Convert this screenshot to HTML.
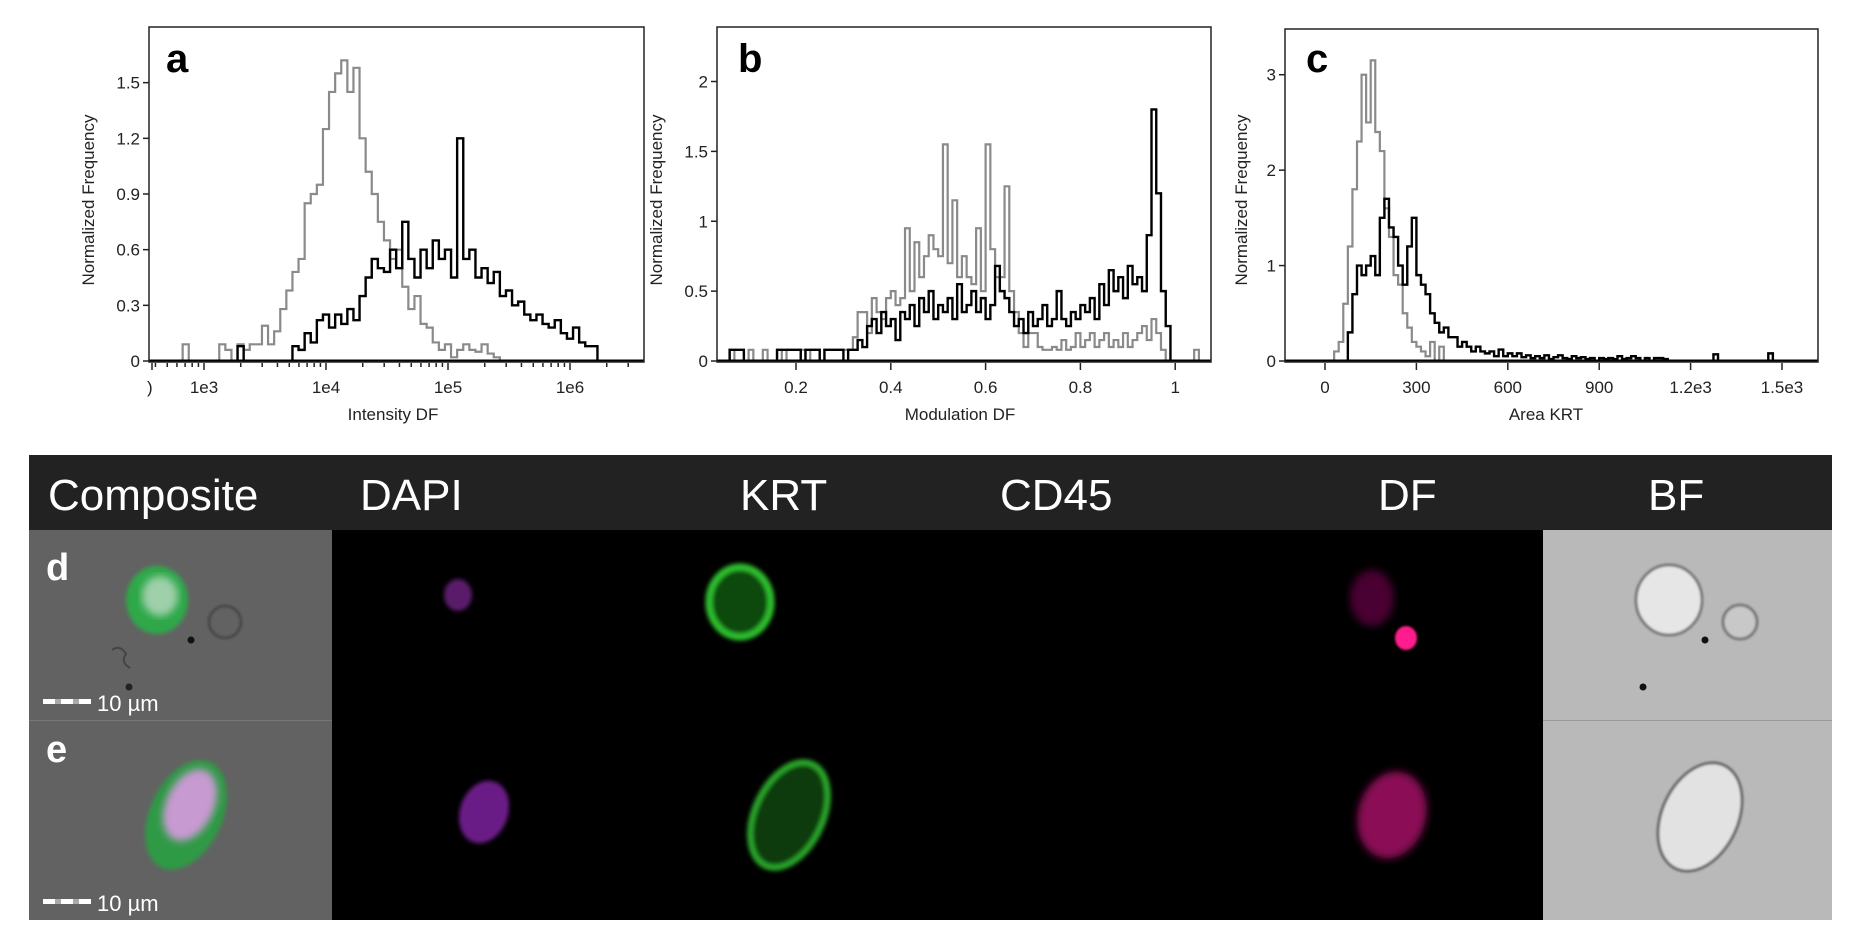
<!DOCTYPE html>
<html><head><meta charset="utf-8"><style>
html,body{margin:0;padding:0;background:#fff;}
svg{display:block;font-family:"Liberation Sans",Arial,sans-serif;}
</style></head><body>
<svg id="fig" width="1852" height="945" viewBox="0 0 1852 945" xmlns="http://www.w3.org/2000/svg">
<defs>
<filter id="blur2"><feGaussianBlur stdDeviation="2"/></filter>
<filter id="blur4"><feGaussianBlur stdDeviation="4"/></filter>
<filter id="blur1"><feGaussianBlur stdDeviation="1"/></filter>
<clipPath id="clipA"><rect x="149" y="27" width="495" height="336"/></clipPath>
<clipPath id="clipB"><rect x="717" y="27" width="494" height="336"/></clipPath>
<clipPath id="clipC"><rect x="1285" y="29" width="533" height="334"/></clipPath>
</defs>
<g id="charts"></g>

<g>
  <rect x="29" y="455" width="1803" height="75" fill="#222"/>
  <g fill="#fff" font-size="44">
    <text x="48" y="510">Composite</text>
    <text x="360" y="510">DAPI</text>
    <text x="740" y="510">KRT</text>
    <text x="1000" y="510">CD45</text>
    <text x="1378" y="510">DF</text>
    <text x="1648" y="510">BF</text>
  </g>
  <rect x="29" y="530" width="303" height="190" fill="#626262"/>
  <rect x="29" y="721" width="303" height="199" fill="#626262"/>
  <rect x="332" y="530" width="1211" height="390" fill="#000"/>
  <rect x="1543" y="530" width="289" height="190" fill="#b9b9b9"/>
  <rect x="1543" y="721" width="289" height="199" fill="#b9b9b9"/>
  <line x1="1543" y1="720.5" x2="1832" y2="720.5" stroke="#999" stroke-width="1"/>
  <line x1="29" y1="720.5" x2="332" y2="720.5" stroke="#777" stroke-width="1"/>

  <!-- composite d -->
  <g>
    <ellipse cx="157" cy="600" rx="31" ry="34" fill="#2fa84a" filter="url(#blur2)"/>
    <ellipse cx="160" cy="596" rx="18" ry="20" fill="#9fd0aa" filter="url(#blur4)"/>
    <circle cx="225" cy="622" r="16" fill="none" stroke="#4a4a4a" stroke-width="3" filter="url(#blur1)"/>
    <circle cx="191" cy="640" r="3.5" fill="#111"/>
    <circle cx="129" cy="687" r="3.5" fill="#222"/>
    <path d="M112 650 q8 -6 14 4 q-6 8 4 14" fill="none" stroke="#444" stroke-width="2"/>
  </g>
  <text x="46" y="580" fill="#fff" font-size="38" font-weight="bold">d</text>
  <g>
    <rect x="43" y="699" width="12" height="5" fill="#fff"/><rect x="55" y="699" width="6" height="5" fill="#aaa"/><rect x="61" y="699" width="12" height="5" fill="#fff"/><rect x="73" y="699" width="6" height="5" fill="#aaa"/><rect x="79" y="699" width="12" height="5" fill="#fff"/>
    <text x="97" y="711" fill="#fff" font-size="22">10 µm</text>
  </g>
  <!-- composite e -->
  <g>
    <ellipse cx="186" cy="815" rx="36" ry="58" transform="rotate(25 186 815)" fill="#2e9a44" filter="url(#blur2)"/>
    <ellipse cx="190" cy="805" rx="24" ry="38" transform="rotate(25 190 805)" fill="#c89ad2" filter="url(#blur4)"/>
  </g>
  <text x="46" y="762" fill="#fff" font-size="38" font-weight="bold">e</text>
  <g>
    <rect x="43" y="899" width="12" height="5" fill="#fff"/><rect x="55" y="899" width="6" height="5" fill="#aaa"/><rect x="61" y="899" width="12" height="5" fill="#fff"/><rect x="73" y="899" width="6" height="5" fill="#aaa"/><rect x="79" y="899" width="12" height="5" fill="#fff"/>
    <text x="97" y="911" fill="#fff" font-size="22">10 µm</text>
  </g>
  <!-- DAPI -->
  <ellipse cx="458" cy="595" rx="14" ry="16" fill="#5a1a6a" filter="url(#blur2)"/>
  <ellipse cx="484" cy="812" rx="24" ry="32" transform="rotate(20 484 812)" fill="#6a1f86" filter="url(#blur2)"/>
  <!-- KRT -->
  <ellipse cx="740" cy="602" rx="31" ry="35" fill="#0d4a10" stroke="#2fc02f" stroke-width="7" filter="url(#blur2)"/>
  <ellipse cx="789" cy="815" rx="34" ry="56" transform="rotate(25 789 815)" fill="#0a3a0c" stroke="#29a82a" stroke-width="6" filter="url(#blur2)"/>
  <!-- DF -->
  <ellipse cx="1372" cy="598" rx="22" ry="28" fill="#4a0530" filter="url(#blur4)"/>
  <ellipse cx="1406" cy="638" rx="11" ry="12" fill="#ff1a8c" filter="url(#blur1)"/>
  <ellipse cx="1392" cy="815" rx="34" ry="44" transform="rotate(15 1392 815)" fill="#8a0a55" filter="url(#blur4)"/>
  <!-- BF -->
  <g>
    <ellipse cx="1669" cy="600" rx="33" ry="35" fill="#e6e6e6" stroke="#777" stroke-width="3" filter="url(#blur1)"/>
    <circle cx="1740" cy="622" r="17" fill="#c8c8c8" stroke="#777" stroke-width="3" filter="url(#blur1)"/>
    <circle cx="1705" cy="640" r="3.5" fill="#111"/>
    <circle cx="1643" cy="687" r="3.5" fill="#111"/>
  </g>
  <ellipse cx="1700" cy="817" rx="38" ry="57" transform="rotate(25 1700 817)" fill="#e2e2e2" stroke="#666" stroke-width="3" filter="url(#blur1)"/>
</g>
</svg>
<script>
// ---- Panel a data (log10 bins, start 2.5, step 0.05) ----
const aStartLog = 2.5;
const aStepLog = 0.05;
const aGray = [0,0,0,0,0,0,0,0.09,0,0,0,0,0,
 0.09,0.06,0,0.09,0.06,0.09,0.09,0.19,0.09,0.16,0.28,0.38,0.48,0.55,0.85,0.9,0.95,1.25,1.45,1.55,1.62,1.45,1.58,1.2,1.02,0.9,0.75,0.65,0.55,0.6,0.4,0.28,0.35,0.2,0.18,0.1,0.06,0.09,0.02,0.06,0.09,0.06,0.05,0.09,0.04,0.02,0,
 0,0,0,0,0,0,0,0,0,0,0,0,0,0,0,0,0,0,0,0];
const aBlack = [0,0,0,0,0,0,0,0,0,0,0,0,0,0,0,0,0.08,0,0,0,0,0,0,0,0,
 0.08,0.06,0.15,0.1,0.22,0.25,0.18,0.25,0.2,0.28,0.22,0.35,0.45,0.55,0.5,0.48,0.6,0.5,0.75,0.55,0.45,0.6,0.5,0.65,0.55,0.6,0.45,1.2,0.55,0.6,0.45,0.5,0.42,0.48,0.35,0.38,0.3,0.32,0.25,0.22,0.25,0.2,0.18,0.22,0.15,0.12,0.18,0.1,0.08,0.08,0,
 0,0,0,0];
const aYTicks = [0,0.3,0.6,0.9,1.2,1.5];
const aYLabels = ["0","0.3","0.6","0.9","1.2","1.5"];
const aXTicks = [1e3,1e4,1e5,1e6];
const aXLabels = ["1e3","1e4","1e5","1e6"];

// ---- Panel b data (start 0.05, step 0.01) ----
const bStart = 0.05;
const bStep = 0.01;
const bGray = [0,0.08,0,0,0,0.08,0,0,0.08,0,
 0,0.08,0,0.08,0.08,0.08,0.08,0,0.08,0.08,
 0,0.08,0.08,0.08,0.08,0.08,0.08,0.17,0.35,0.35,
 0.2,0.45,0.35,0.3,0.45,0.5,0.4,0.45,0.95,0.5,
 0.85,0.6,0.75,0.9,0.8,0.75,1.55,0.7,1.15,0.6,
 0.75,0.6,0.55,0.95,0.5,1.55,0.8,0.6,0.6,1.25,
 0.5,0.35,0.2,0.1,0.2,0.2,0.1,0.08,0.08,0.1,
 0.08,0.15,0.08,0.1,0.2,0.1,0.15,0.2,0.1,0.15,
 0.2,0.1,0.15,0.1,0.2,0.1,0.15,0.2,0.25,0.15,
 0.3,0.2,0.08,0,0,0,0,0,0,0.08,0,0];
const bBlack = [0,0.08,0.08,0.08,0,0,0,0,0,0,
 0,0.08,0.08,0.08,0.08,0.08,0,0.08,0.08,0.08,
 0,0.08,0.08,0.08,0.08,0,0.08,0.08,0.15,0.1,
 0.25,0.3,0.2,0.35,0.25,0.3,0.15,0.35,0.3,0.4,
 0.25,0.45,0.35,0.5,0.3,0.4,0.35,0.45,0.3,0.55,
 0.35,0.4,0.5,0.35,0.45,0.3,0.4,0.68,0.5,0.45,
 0.35,0.25,0.3,0.2,0.35,0.25,0.3,0.4,0.25,0.3,
 0.5,0.3,0.25,0.35,0.3,0.4,0.35,0.45,0.3,0.55,
 0.4,0.65,0.5,0.6,0.45,0.68,0.55,0.6,0.5,0.9,
 1.8,1.2,0.5,0.25,0,0,0,0,0,0,0,0];
const bYTicks = [0,0.5,1,1.5,2];
const bYLabels = ["0","0.5","1","1.5","2"];
const bXTicks = [0.2,0.4,0.6,0.8,1];
const bXLabels = ["0.2","0.4","0.6","0.8","1"];

// ---- Panel c data (start 0, step 15) ----
const cStart = 0;
const cStep = 15;
const cGray = [0,0,0.1,0.2,0.6,1.2,1.8,2.3,3.0,2.5,
 3.15,2.4,2.2,1.6,1.3,0.9,0.8,0.5,0.35,0.2,
 0.15,0.1,0.05,0.2,0,0.15,0,0,0,0,
 0,0,0,0,0,0,0,0,0,0, 0,0,0,0,0,0,0,0,0,0,
 0,0,0,0,0,0,0,0,0,0, 0,0,0,0,0,0,0,0,0,0,
 0,0,0,0,0,0,0,0,0,0, 0,0,0,0,0,0,0,0,0,0,
 0,0,0,0,0,0,0,0,0,0];
const cBlack = [0,0,0,0,0,
 0.3,0.7,1.0,0.9,1.0,1.1,0.9,1.5,1.7,1.4,
 1.3,1.0,0.8,1.2,1.5,0.9,0.8,0.7,0.5,0.4,
 0.3,0.35,0.25,0.25,0.15,0.2,0.15,0.1,0.15,0.1,
 0.08,0.1,0.05,0.12,0.05,0.08,0.05,0.08,0.04,0.06,
 0.03,0.05,0.03,0.06,0.02,0.04,0.06,0.03,0.02,0.05,
 0.03,0.04,0.02,0.03,0,0.03,0.02,0.03,0.02,0.05,
 0.02,0.03,0.05,0.03,0,0.03,0,0.03,0.03,0.02,
 0,0,0,0,0,0,0,0,0,0,
 0.07,0,0,0,0,0,0,0,0,0,
 0,0,0.08,0,0];
const cYTicks = [0,1,2,3];
const cYLabels = ["0","1","2","3"];
const cXTicks = [0,300,600,900,1200,1500];
const cXLabels = ["0","300","600","900","1.2e3","1.5e3"];

const NS = "http://www.w3.org/2000/svg";
const root = document.getElementById('charts');
function mk(tag, attrs, parent){
  const e = document.createElementNS(NS, tag);
  for (const k in attrs) e.setAttribute(k, attrs[k]);
  (parent||root).appendChild(e);
  return e;
}
const Y0 = 361;
function yScale(max){ return v => Y0 - v/max*(Y0-27); }

function stepPath(values, edgeX, y){
  let d = "";
  for (let i=0;i<values.length;i++){
    const x0 = edgeX(i), x1 = edgeX(i+1), yy = y(values[i]);
    d += (i===0? "M"+x0+" "+y(0)+"L"+x0+" "+yy : "L"+x0+" "+yy) + "L"+x1+" "+yy;
  }
  d += "L"+edgeX(values.length)+" "+y(0);
  return d;
}

function panel(cfg){
  const g = mk('g', {});
  
  
  const dg = mk('g', {'clip-path':'url(#'+cfg.clip+')'}, g);
  
  
  const pg = mk('path', {d: stepPath(cfg.gray, cfg.edgeX, cfg.y), fill:'none', stroke:'#8a8a8a', 'stroke-width':2.2}, dg);
  
  
  const pb = mk('path', {d: stepPath(cfg.black, cfg.edgeX, cfg.y), fill:'none', stroke:'#000', 'stroke-width':2.4}, dg);
  
  
  const bl = mk('line', {x1:cfg.L, x2:cfg.R, y1:Y0, y2:Y0, stroke:'#000','stroke-width':3}, g);
  
  
  const fr = mk('rect', {x:cfg.L, y:cfg.T, width:cfg.R-cfg.L, height:Y0+1-cfg.T, fill:'none', stroke:'#222','stroke-width':1.5}, g);
  
  
  cfg.yTicks.forEach((v,i)=>{
    const yy = cfg.y(v);
    mk('line',{x1:cfg.L-6,x2:cfg.L,y1:yy,y2:yy,stroke:'#222','stroke-width':1.5},g);
    const t = mk('text',{x:cfg.L-9,y:yy+6,'text-anchor':'end','font-size':17,fill:'#222'},g);
    t.textContent = cfg.yLabels[i];
    
    
  });
  cfg.xTicks.forEach((v,i)=>{
    const xx = cfg.x(v);
    mk('line',{x1:xx,x2:xx,y1:Y0+2,y2:Y0+9,stroke:'#222','stroke-width':1.5},g);
    const t = mk('text',{x:xx,y:393,'text-anchor':'middle','font-size':17,fill:'#222'},g);
    t.textContent = cfg.xLabels[i];
    
    
  });
  (cfg.minor||[]).forEach(v=>{
    const xx = cfg.x(v);
    mk('line',{x1:xx,x2:xx,y1:Y0+2,y2:Y0+6,stroke:'#222','stroke-width':1.5},g);
  });
  const xt = mk('text',{x:cfg.xTitleX,y:420,'text-anchor':'middle','font-size':17,fill:'#222'},g);
  xt.textContent = cfg.xTitle;
  
  
  const yt = mk('text',{x:0,y:0,'text-anchor':'middle','font-size':17,fill:'#222',transform:'translate('+cfg.yTitleX+' 200) rotate(-90)'},g);
  yt.textContent = 'Normalized Frequency';
  
  
  const pl = mk('text',{x:cfg.letterX,y:72,'font-size':40,'font-weight':'bold',fill:'#000'},g);
  pl.textContent = cfg.letter;
  
  
}

// Panel a: log x axis
const xa = v => 448 + 122*(Math.log10(v)-5);
const aMinor = [];
for (let k=2;k<=6;k++) for (let m=2;m<=9;m++){ const v=m*Math.pow(10,k); if (xa(v)>150 && xa(v)<643) aMinor.push(v); }
panel({name:'panel-a-intensity-df', clip:'clipA', L:149, R:644, T:27,
  gray:aGray, black:aBlack, edgeX: i => xa(Math.pow(10, aStartLog + aStepLog*(i-0.5))),
  y: yScale(1.8), x: xa, yTicks:aYTicks, yLabels:aYLabels, xTicks:aXTicks, xLabels:aXLabels, minor:aMinor,
  xTitle:'Intensity DF', xTitleX:393, yTitleX:94, letter:'a', letterX:166});
// "0" tick at left edge of log axis (clipped label)
(function(){
  mk('line',{x1:152,x2:152,y1:Y0+2,y2:Y0+9,stroke:'#222','stroke-width':1.5});
  const t = mk('text',{x:147,y:393,'font-size':17,fill:'#222'});
  t.textContent = ')';
  
  
})();

// Panel b
const xb = v => 796 + (v-0.2)/0.2*94.8;
panel({name:'panel-b-modulation-df', clip:'clipB', L:717, R:1211, T:27,
  gray:bGray, black:bBlack, edgeX: i => xb(bStart + bStep*i),
  y: yScale(2.39), x: xb, yTicks:bYTicks, yLabels:bYLabels, xTicks:bXTicks, xLabels:bXLabels,
  xTitle:'Modulation DF', xTitleX:960, yTitleX:662, letter:'b', letterX:738});

// Panel c
const xc = v => 1325 + v/300*91.4;
panel({name:'panel-c-area-krt', clip:'clipC', L:1285, R:1818, T:29,
  gray:cGray, black:cBlack, edgeX: i => xc(cStart + cStep*i),
  y: yScale(3.5), x: xc, yTicks:cYTicks, yLabels:cYLabels, xTicks:cXTicks, xLabels:cXLabels,
  xTitle:'Area KRT', xTitleX:1546, yTitleX:1247, letter:'c', letterX:1306});
</script>
</body></html>
